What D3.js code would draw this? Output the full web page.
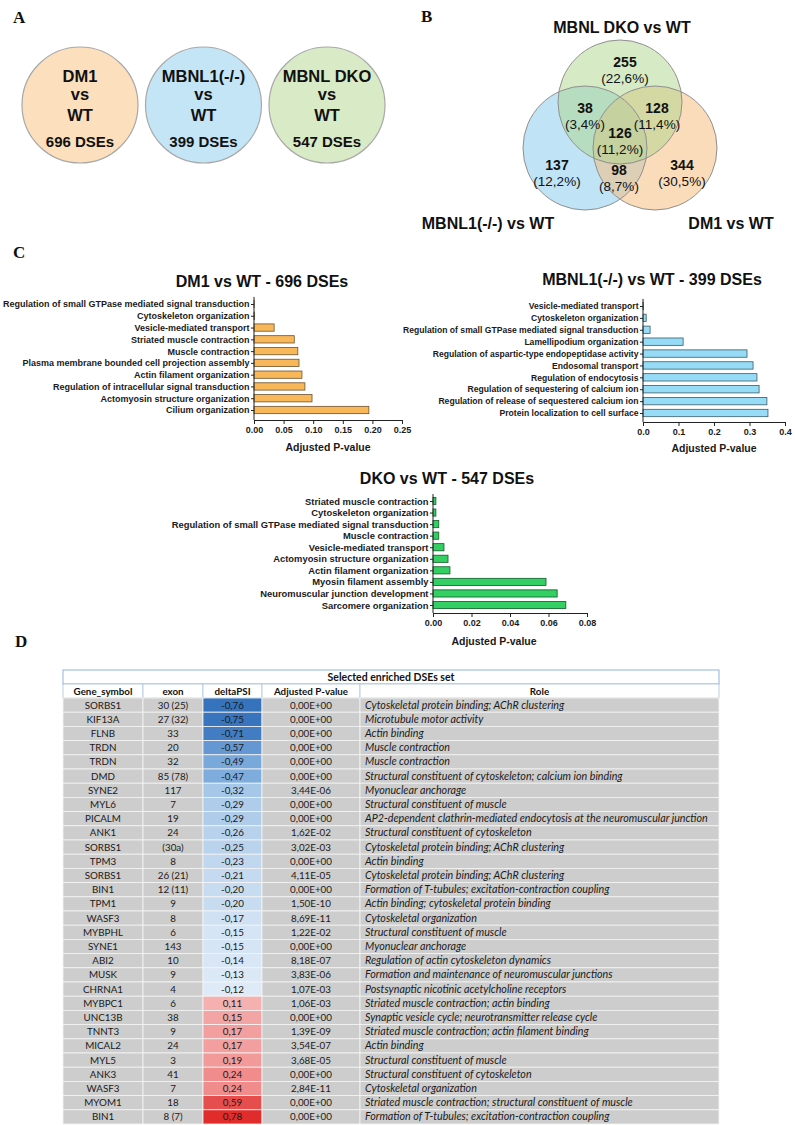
<!DOCTYPE html>
<html><head><meta charset="utf-8">
<script src="https://cdn.jsdelivr.net/npm/d3@7"></script>
<style>body{margin:0;background:#fff} svg{display:block}</style>
</head><body>
<svg id="fig" width="795" height="1125"></svg>
<script>
// ---------------- DATA ----------------
const panelAGroups = ["DM1", "MBNL1(-/-)", "MBNL DKO"];
const panelACounts = [696, 399, 547];

const vennSetNames = ["MBNL DKO vs WT", "MBNL1(-/-) vs WT", "DM1 vs WT"];
const vennRegions = ["dkoOnly", "dkoMbnl", "dkoDm1", "all", "mbnlOnly", "mbnlDm1", "dm1Only"];
const vennCounts = [255, 38, 128, 126, 137, 98, 344];
const vennPercents = ["(22,6%)", "(3,4%)", "(11,4%)", "(11,2%)", "(12,2%)", "(8,7%)", "(30,5%)"];

const dm1Terms = ["Regulation of small GTPase mediated signal transduction", "Cytoskeleton organization",
  "Vesicle-mediated transport", "Striated muscle contraction", "Muscle contraction",
  "Plasma membrane bounded cell projection assembly", "Actin filament organization",
  "Regulation of intracellular signal transduction", "Actomyosin structure organization", "Cilium organization"];
const dm1Values = [0.0003, 0.001, 0.034, 0.068, 0.074, 0.076, 0.081, 0.086, 0.098, 0.194];
const dm1Ticks = [0, 0.05, 0.10, 0.15, 0.20, 0.25];

const mbnlTerms = ["Vesicle-mediated transport", "Cytoskeleton organization",
  "Regulation of small GTPase mediated signal transduction", "Lamellipodium organization",
  "Regulation of aspartic-type endopeptidase activity", "Endosomal transport", "Regulation of endocytosis",
  "Regulation of sequestering of calcium ion", "Regulation of release of sequestered calcium ion",
  "Protein localization to cell surface"];
const mbnlValues = [0.001, 0.009, 0.02, 0.113, 0.293, 0.31, 0.321, 0.327, 0.349, 0.352];
const mbnlTicks = [0, 0.1, 0.2, 0.3, 0.4];

const dkoTerms = ["Striated muscle contraction", "Cytoskeleton organization",
  "Regulation of small GTPase mediated signal transduction", "Muscle contraction", "Vesicle-mediated transport",
  "Actomyosin structure organization", "Actin filament organization", "Myosin filament assembly",
  "Neuromuscular junction development", "Sarcomere organization"];
const dkoValues = [0.0015, 0.0015, 0.003, 0.003, 0.0057, 0.0078, 0.0088, 0.0587, 0.0645, 0.069];
const dkoTicks = [0, 0.02, 0.04, 0.06, 0.08];

const tableTitle = "Selected enriched DSEs set";
const tableColumns = ["Gene_symbol", "exon", "deltaPSI", "Adjusted P-value", "Role"];
const genes = ["SORBS1","KIF13A","FLNB","TRDN","TRDN","DMD","SYNE2","MYL6","PICALM","ANK1","SORBS1","TPM3",
  "SORBS1","BIN1","TPM1","WASF3","MYBPHL","SYNE1","ABI2","MUSK","CHRNA1","MYBPC1","UNC13B","TNNT3","MICAL2",
  "MYL5","ANK3","WASF3","MYOM1","BIN1"];
const exons = ["30 (25)","27 (32)","33","20","32","85 (78)","117","7","19","24","(30a)","8","26 (21)","12 (11)",
  "9","8","6","143","10","9","4","6","38","9","24","3","41","7","18","8 (7)"];
const deltaPSI = [-0.76,-0.75,-0.71,-0.57,-0.49,-0.47,-0.32,-0.29,-0.29,-0.26,-0.25,-0.23,-0.21,-0.20,-0.20,
  -0.17,-0.15,-0.15,-0.14,-0.13,-0.12,0.11,0.15,0.17,0.17,0.19,0.24,0.24,0.59,0.78];
const adjPValues = [0,0,0,0,0,0,3.44e-6,0,0,1.62e-2,3.02e-3,0,4.11e-5,0,1.50e-10,8.69e-11,1.22e-2,0,8.18e-7,
  3.83e-6,1.07e-3,1.06e-3,0,1.39e-9,3.54e-7,3.68e-5,0,2.84e-11,0,0];
const roles = ["Cytoskeletal protein binding; AChR clustering","Microtubule motor activity","Actin binding",
  "Muscle contraction","Muscle contraction","Structural constituent of cytoskeleton; calcium ion binding",
  "Myonuclear anchorage","Structural constituent of muscle",
  "AP2-dependent clathrin-mediated endocytosis at the neuromuscular junction",
  "Structural constituent of cytoskeleton","Cytoskeletal protein binding; AChR clustering","Actin binding",
  "Cytoskeletal protein binding; AChR clustering","Formation of T-tubules; excitation-contraction coupling",
  "Actin binding; cytoskeletal protein binding","Cytoskeletal organization","Structural constituent of muscle",
  "Myonuclear anchorage","Regulation of actin cytoskeleton dynamics",
  "Formation and maintenance of neuromuscular junctions","Postsynaptic nicotinic acetylcholine receptors",
  "Striated muscle contraction; actin binding","Synaptic vesicle cycle; neurotransmitter release cycle",
  "Striated muscle contraction; actin filament binding","Actin binding","Structural constituent of muscle",
  "Structural constituent of cytoskeleton","Cytoskeletal organization",
  "Striated muscle contraction; structural constituent of muscle",
  "Formation of T-tubules; excitation-contraction coupling"];

// ---------------- SETUP ----------------
const SANS = "'Liberation Sans', Arial, sans-serif";
const SERIF = "'Liberation Serif', 'Times New Roman', serif";
const TAB = "Lato, 'Open Sans', sans-serif";
const svg = d3.select("#fig");
svg.append("rect").attr("width", 795).attr("height", 1125).attr("fill", "#fff");

// panel letters
[["A", 13, 23], ["B", 421, 22], ["C", 13, 258], ["D", 15, 647]].forEach(([t, x, y]) => {
  svg.append("text").attr("x", x).attr("y", y).text(t)
    .attr("font-family", SERIF).attr("font-weight", "bold").attr("font-size", 17).attr("fill", "#111");
});

// ---------------- PANEL A ----------------
{
  const x = d3.scalePoint().domain(panelAGroups).range([80, 327]);
  const fills = ["#fcdfbd", "#c4e5f6", "#d9eac7"];
  const g = svg.append("g");
  panelAGroups.forEach((name, i) => {
    const cx = x(name);
    g.append("circle").attr("cx", cx).attr("cy", 105).attr("r", 58)
      .attr("fill", fills[i]).attr("stroke", "#a8a8a8").attr("stroke-width", 1.2);
    const lines = [[name, 82, 16.5], ["vs", 100, 16.5], ["WT", 121, 16.5], [panelACounts[i] + " DSEs", 147, 15]];
    lines.forEach(([t, y, fs]) => {
      g.append("text").attr("x", cx).attr("y", y).attr("text-anchor", "middle").text(t)
        .attr("font-family", SANS).attr("font-weight", "bold").attr("font-size", fs).attr("fill", "#111");
    });
  });
}

// ---------------- PANEL B ----------------
{
  const g = svg.append("g");
  const circles = [
    { cx: 585, cy: 148, fill: "#81c9eb" },  // MBNL1
    { cx: 655, cy: 148, fill: "#f7b975" },  // DM1
    { cx: 620, cy: 102, fill: "#add58b" }   // DKO
  ];
  circles.forEach(c => g.append("circle").attr("cx", c.cx).attr("cy", c.cy).attr("r", 62)
    .attr("fill", c.fill).attr("fill-opacity", 0.5));
  circles.forEach(c => g.append("circle").attr("cx", c.cx).attr("cy", c.cy).attr("r", 62)
    .attr("fill", "none").attr("stroke", "#8f8f8f").attr("stroke-width", 1));
  const pos = {
    dkoOnly: [625, 62], dkoMbnl: [585, 108], dkoDm1: [657, 108], all: [620, 133],
    mbnlOnly: [557, 165], mbnlDm1: [619, 170], dm1Only: [682, 165]
  };
  vennRegions.forEach((r, i) => {
    const [x, y] = pos[r];
    g.append("text").attr("x", x).attr("y", y + 5).attr("text-anchor", "middle").text(vennCounts[i])
      .attr("font-family", SANS).attr("font-weight", "bold").attr("font-size", 14).attr("fill", "#111");
    g.append("text").attr("x", x).attr("y", y + 21).attr("text-anchor", "middle").text(vennPercents[i])
      .attr("font-family", SANS).attr("font-size", 13.5).attr("fill", "#111");
  });
  const labelPos = [[622, 33], [488, 229], [731, 229]];
  vennSetNames.forEach((t, i) => {
    g.append("text").attr("x", labelPos[i][0]).attr("y", labelPos[i][1]).attr("text-anchor", "middle").text(t)
      .attr("font-family", SANS).attr("font-weight", "bold").attr("font-size", 16).attr("fill", "#111");
  });
}

// ---------------- PANEL C ----------------
function barChart(terms, values, ticks, fmt, title, L, col) {
  const g = svg.append("g");
  const x = d3.scaleLinear().domain([ticks[0], ticks[ticks.length - 1]]).range([L.x0, L.x1]);
  const y = d3.scalePoint().domain(terms).range([L.yFirst, L.yLast]);
  const bh = y.step() * 0.62;
  g.selectAll("rect.bar").data(terms).join("rect").attr("class", "bar")
    .attr("x", x(0)).attr("y", d => y(d) - bh / 2)
    .attr("width", (d, i) => Math.max(0.01, x(values[i]) - x(0))).attr("height", bh)
    .attr("fill", col.fill).attr("stroke", col.stroke).attr("stroke-width", 0.8);
  const ya = g.append("g").attr("transform", `translate(${x(0)},0)`)
    .call(d3.axisLeft(y).tickSize(3).tickPadding(1.5).tickSizeOuter(0));
  ya.select(".domain").remove();
  ya.append("line").attr("x1", 0).attr("x2", 0).attr("y1", L.yFirst - y.step() * 0.6).attr("y2", L.axisY)
    .attr("stroke", "#222").attr("stroke-width", 1);
  ya.selectAll(".tick line").attr("stroke", "#222");
  ya.selectAll("text").attr("font-size", L.labelSize).attr("font-weight", "bold")
    .attr("font-family", SANS).attr("fill", "#1a1a1a");
  const xa = g.append("g").attr("transform", `translate(0,${L.axisY})`)
    .call(d3.axisBottom(x).tickValues(ticks).tickFormat(d3.format(fmt)).tickSize(4).tickPadding(3).tickSizeOuter(0));
  xa.select(".domain").attr("stroke", "#222");
  xa.selectAll(".tick line").attr("stroke", "#222");
  xa.selectAll("text").attr("font-size", 9).attr("font-weight", "bold").attr("font-family", SANS).attr("fill", "#1a1a1a");
  g.append("text").attr("x", L.titleX).attr("y", L.titleY).attr("text-anchor", "middle").text(title)
    .attr("font-family", SANS).attr("font-weight", "bold").attr("font-size", 16).attr("fill", "#111");
  g.append("text").attr("x", L.xlabX).attr("y", L.xlabY).attr("text-anchor", "middle").text("Adjusted P-value")
    .attr("font-family", SANS).attr("font-weight", "bold").attr("font-size", 10.5).attr("fill", "#1a1a1a");
}

barChart(dm1Terms, dm1Values, dm1Ticks, ".2f", "DM1 vs WT - 696 DSEs",
  { x0: 254, x1: 402, yFirst: 304, yLast: 410, axisY: 420, labelSize: 9, titleX: 262, titleY: 287, xlabX: 328, xlabY: 451 },
  { fill: "#f8b85a", stroke: "#6b5330" });
barChart(mbnlTerms, mbnlValues, mbnlTicks, ".1f", "MBNL1(-/-) vs WT - 399 DSEs",
  { x0: 643, x1: 785, yFirst: 306, yLast: 413, axisY: 422, labelSize: 8.6, titleX: 652, titleY: 285, xlabX: 714, xlabY: 452 },
  { fill: "#96dcf7", stroke: "#3d5a66" });
barChart(dkoTerms, dkoValues, dkoTicks, ".2f", "DKO vs WT - 547 DSEs",
  { x0: 433, x1: 587, yFirst: 501, yLast: 605, axisY: 613, labelSize: 9.4, titleX: 447, titleY: 484, xlabX: 494, xlabY: 645 },
  { fill: "#33cf63", stroke: "#125a28" });

// ---------------- PANEL D ----------------
{
  const g = svg.append("g");
  const edges = [63, 143, 203, 262, 360, 719];
  const titleTop = 670, headTop = 684, rowTop = 698, rowBottom = 1124;
  const rows = d3.scaleBand().domain(d3.range(genes.length)).range([rowTop, rowBottom]);
  const loc = d3.formatLocale({ decimal: ",", thousands: ".", grouping: [3], currency: ["", ""], minus: "-" });
  const fmtPSI = loc.format(".2f");
  const fmtP = v => {
    const [m, e] = v.toExponential(2).split("e");
    const n = Math.abs(+e);
    return m.replace(".", ",") + "E" + (+e < 0 ? "-" : "+") + (n < 10 ? "0" + n : "" + n);
  };
  const neg = d3.scaleLinear().domain([-0.76, -0.47, -0.12]).range(["#3573bd", "#7eacdd", "#deeaf7"]);
  const pos = d3.scaleLinear().domain([0.11, 0.24, 0.78]).range(["#f5b0b0", "#f08c8c", "#e02c2b"]);
  const cellFill = v => v < 0 ? neg(v) : pos(v);

  // title row
  g.append("rect").attr("x", edges[0]).attr("y", titleTop).attr("width", edges[5] - edges[0]).attr("height", headTop - titleTop)
    .attr("fill", "#fff").attr("stroke", "#8fb3dc").attr("stroke-width", 1);
  g.append("text").attr("x", (edges[0] + edges[5]) / 2).attr("y", titleTop + 11).attr("text-anchor", "middle")
    .text(tableTitle).attr("font-family", TAB).attr("font-weight", "bold").attr("font-size", 10.5).attr("fill", "#111");
  // header row
  tableColumns.forEach((c, j) => {
    g.append("rect").attr("x", edges[j]).attr("y", headTop).attr("width", edges[j + 1] - edges[j]).attr("height", rowTop - headTop)
      .attr("fill", "#fff").attr("stroke", "#a9c3e2").attr("stroke-width", 0.8);
    g.append("text").attr("x", (edges[j] + edges[j + 1]) / 2).attr("y", headTop + 10.5).attr("text-anchor", "middle")
      .text(c).attr("font-family", TAB).attr("font-weight", "bold").attr("font-size", 9.8).attr("fill", "#111");
  });
  // data
  const rh = rows.bandwidth();
  genes.forEach((gene, i) => {
    const y0 = rows(i);
    const cells = [gene, exons[i], fmtPSI(deltaPSI[i]), fmtP(adjPValues[i]), roles[i]];
    cells.forEach((t, j) => {
      g.append("rect").attr("x", edges[j]).attr("y", y0).attr("width", edges[j + 1] - edges[j]).attr("height", rh)
        .attr("fill", j === 2 ? cellFill(deltaPSI[i]) : "#cdcdcd").attr("stroke", "#f4f4f4").attr("stroke-width", 0.8);
      const tx = j === 4 ? edges[j] + 5 : (edges[j] + edges[j + 1]) / 2;
      g.append("text").attr("class", j === 4 ? "role" : "cell").attr("x", tx).attr("y", y0 + rh / 2 + 3.4)
        .attr("text-anchor", j === 4 ? "start" : "middle").text(t)
        .attr("font-family", TAB).attr("font-size", 9.8).attr("font-style", j === 4 ? "italic" : "normal")
        .attr("fill", "#1a1a1a");
    });
  });
  // fit role text so the longest entry spans the width it has in the reference
  let maxW = 0;
  g.selectAll("text.role").each(function () { maxW = Math.max(maxW, this.getComputedTextLength()); });
  const fs = 9.8 * 343 / maxW;
  g.selectAll("text.role").attr("font-size", fs);
}
</script>
</body></html>
